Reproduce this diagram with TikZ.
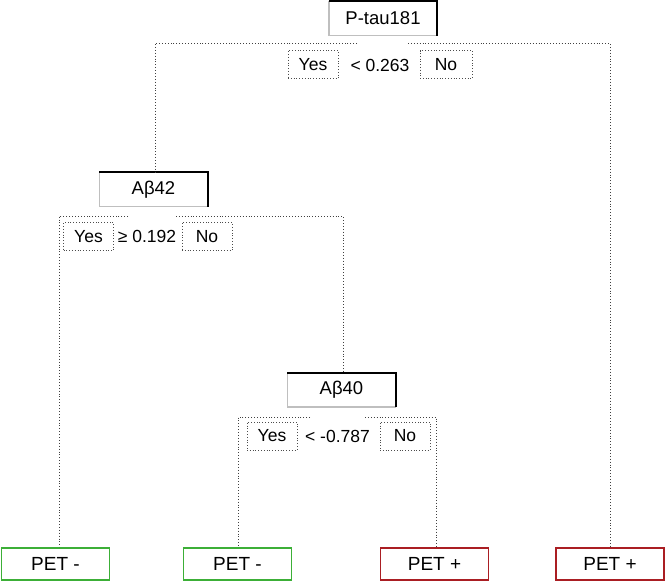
\documentclass[tikz,border=0pt]{standalone}
\usepackage{fontspec}
\setmainfont{Liberation Sans}
\definecolor{leafgreen}{RGB}{60,175,55}
\definecolor{leafred}{RGB}{170,30,35}
\begin{document}
\begin{tikzpicture}[x=1pt,y=-1pt,
  mainbox/.style={minimum width=108pt,minimum height=34pt,inner sep=0pt,font=\fontsize{18.5}{20}\selectfont},
  ansbox/.style={draw=black!70,dotted,line width=0.8pt,minimum width=50pt,minimum height=28pt,inner sep=0pt,font=\fontsize{17.5}{19}\selectfont},
  cond/.style={inner sep=0pt,font=\fontsize{17.5}{19}\selectfont},
  leafbox/.style={draw,line width=1.6pt,fill=white,minimum width=108pt,minimum height=32pt,inner sep=0pt,font=\fontsize{19}{21}\selectfont},
  negleaf/.style={leafbox,draw=leafgreen},
  posleaf/.style={leafbox,draw=leafred},
  conn/.style={draw=black!75,dotted,line width=0.9pt},
  hi/.style={line width=2.2pt,black},
  lo/.style={line width=1.5pt,black!25}]
\useasboundingbox (0,0) rectangle (666,581);

% main split nodes
\node[mainbox] (ptau) at (383,18.5) {P-tau181};
\node[mainbox] (ab42) at (153.5,189.5) {Aβ42};
\node[mainbox] (ab40) at (341.5,390) {Aβ40};
\foreach \n in {ptau,ab42,ab40}{
  \draw[lo] (\n.north west) -- (\n.south west) -- (\n.south east);
  \draw[hi] (\n.north west) -- (\n.north east) -- (\n.south east);
}

% leaves
\node[negleaf] (pet1) at (55.5,564) {PET -};
\node[negleaf] (pet2) at (237.5,564) {PET -};
\node[posleaf] (pet3) at (434.5,564) {PET +};
\node[posleaf] (pet4) at (610,564) {PET +};

% labels
\node[ansbox] (yes1) at (313,64.5) {Yes};
\node[cond] (c1) at (380,65) {< 0.263};
\node[ansbox,minimum width=52pt] (no1) at (446,64.5) {No};
\node[ansbox] (yes2) at (88.5,236.5) {Yes};
\node[cond] (c2) at (147,236.5) {≥ 0.192};
\node[ansbox] (no2) at (207,236.5) {No};
\node[ansbox] (yes3) at (272,436) {Yes};
\node[cond] (c3) at (337.5,436) {< -0.787};
\node[ansbox] (no3) at (405,436) {No};

% connectors
\coordinate (p1) at (357,43);
\coordinate (p2) at (408,43);
\coordinate (q1) at (128,216);
\coordinate (q2) at (176,216);
\coordinate (r1) at (310,417);
\coordinate (r2) at (365,417);
\draw[conn] (p1) -| ([xshift=1.5pt]ab42.north);
\draw[conn] (p2) -| (pet4.north);
\draw[conn] (q1) -| ([xshift=3.5pt]pet1.north);
\draw[conn] (q2) -| ([xshift=1.5pt]ab40.north);
\draw[conn] (r1) -| ([xshift=0.5pt]pet2.north);
\draw[conn] (r2) -| ([xshift=1.5pt]pet3.north);
\end{tikzpicture}
\end{document}
